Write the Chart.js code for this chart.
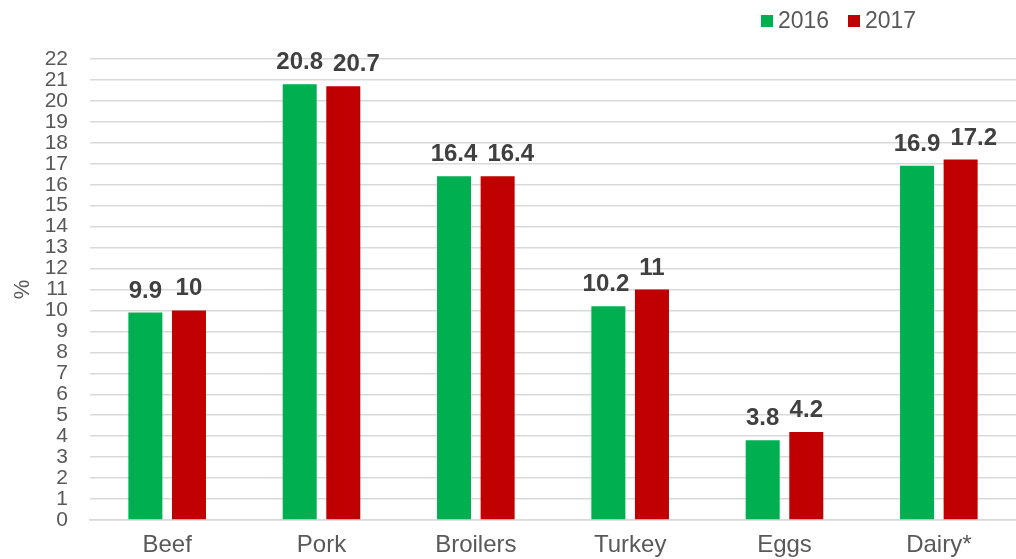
<!DOCTYPE html>
<html>
<head>
<meta charset="utf-8">
<script src="https://cdn.jsdelivr.net/npm/chart.js@4"></script>
<style>
html,body{margin:0;padding:0;background:#fff;}
#wrap{position:relative;width:1016px;height:559px;overflow:hidden;}
.lg{position:absolute;font-family:"Liberation Sans",Arial,sans-serif;font-size:23px;line-height:23px;color:#595959;white-space:nowrap;}
.sq{position:absolute;width:12px;height:12px;top:15px;}
</style>
</head>
<body>
<div id="wrap">
<canvas id="c" width="1016" height="559"></canvas>
<div id="legend"></div>
</div>
<script>
const categories = ["Beef","Pork","Broilers","Turkey","Eggs","Dairy*"];
const series2016 = [9.9, 20.8, 16.4, 10.2, 3.8, 16.9];
const series2017 = [10, 20.7, 16.4, 11, 4.2, 17.2];
const seriesNames = ["2016","2017"];
const colors = ["#00b050","#c00000"];
const yTicks = [0,1,2,3,4,5,6,7,8,9,10,11,12,13,14,15,16,17,18,19,20,21,22];

const FONT = '"Liberation Sans", Arial, sans-serif';

const legendX = [761, 848];
document.getElementById('legend').innerHTML = seriesNames.map((n,i)=>
 `<div class="sq" style="left:${legendX[i]}px;background:${colors[i]}"></div><div class="lg" style="left:${legendX[i]+17}px;top:9px">${n}</div>`).join('');

// value labels above bars, nudged apart when the pair would collide
const labelPlugin = {
  id:'valueLabels',
  afterDatasetsDraw(chart){
    const ctx = chart.ctx;
    ctx.save();
    ctx.font = 'bold 24px ' + FONT;
    ctx.fillStyle = '#404040';
    ctx.textAlign = 'center';
    ctx.textBaseline = 'alphabetic';
    const m0 = chart.getDatasetMeta(0), m1 = chart.getDatasetMeta(1);
    const d0 = chart.data.datasets[0].data, d1 = chart.data.datasets[1].data;
    const gap = 10, h = 24;
    for (let i = 0; i < d0.length; i++) {
      const b0 = m0.data[i], b1 = m1.data[i];
      const t0 = String(d0[i]), t1 = String(d1[i]);
      const w0 = ctx.measureText(t0).width, w1 = ctx.measureText(t1).width;
      let x0 = b0.x, x1 = b1.x;
      const y0 = b0.y - 15, y1 = b1.y - 15;
      const need = w0/2 + w1/2 + gap - (x1 - x0);
      if (need > 0 && Math.abs(y0 - y1) < h) {
        if (Math.abs(y0 - y1) > 10) {
          if (y0 > y1) x0 -= need; else x1 += need;
        } else {
          x1 += need;
        }
      }
      ctx.fillText(t0, x0, y0);
      ctx.fillText(t1, x1, y1);
    }
    ctx.restore();
  }
};

new Chart(document.getElementById('c'), {
  type:'bar',
  data:{
    labels:categories,
    datasets:[
      {label:seriesNames[0], data:series2016, backgroundColor:colors[0], categoryPercentage:0.565, barPercentage:0.78},
      {label:seriesNames[1], data:series2017, backgroundColor:colors[1], categoryPercentage:0.565, barPercentage:0.78}
    ]
  },
  options:{
    responsive:false,
    animation:false,
    layout:{padding:{top:59,right:0,bottom:0,left:10}},
    plugins:{legend:{display:false},tooltip:{enabled:false}},
    scales:{
      x:{
        afterFit(scale){ scale.height = 39; },
        grid:{display:false, drawTicks:false},
        border:{display:true,color:'#d9d9d9',width:1.5},
        ticks:{color:'#595959',font:{family:FONT,size:24,lineHeight:1},padding:13}
      },
      y:{
        min:0,max:22,
        afterFit(scale){ scale.width = 80; },
        afterBuildTicks(axis){ axis.ticks = yTicks.map(v=>({value:v})); },
        grid:{color:'#d9d9d9',lineWidth:1.5,drawTicks:false},
        border:{display:false},
        ticks:{autoSkip:false,color:'#595959',font:{family:FONT,size:21,lineHeight:1},padding:22},
        title:{display:true,text:'%',color:'#595959',font:{family:FONT,size:22,lineHeight:1.2},padding:{top:0,bottom:8}}
      }
    }
  },
  plugins:[labelPlugin]
});
</script>
</body>
</html>
